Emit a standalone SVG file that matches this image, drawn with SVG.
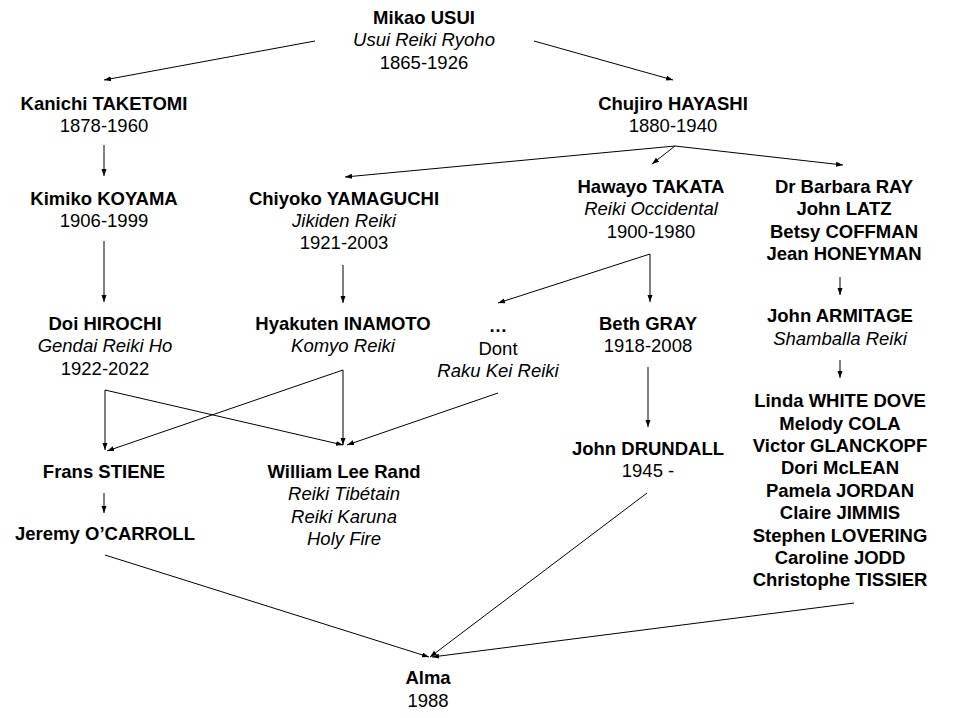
<svg xmlns="http://www.w3.org/2000/svg" width="960" height="718" viewBox="0 0 960 718">
<defs>
<marker id="ah" markerUnits="userSpaceOnUse" markerWidth="8" markerHeight="6" refX="7" refY="2.5" orient="auto">
<path d="M0,0 L7,2.5 L0,5 z" fill="#000"/>
</marker>
<style>
text{font-family:"Liberation Sans",Arial,sans-serif;font-size:18.5px;fill:#000;text-anchor:middle}
.b{font-weight:bold}
.i{font-style:italic}
#edges line{stroke:#000;stroke-width:1;marker-end:url(#ah)}
</style>
</defs>
<rect width="960" height="718" fill="#fff"/>
<g id="edges">
<line x1="315" y1="41" x2="104" y2="80"/>
<line x1="534" y1="41" x2="673" y2="80"/>
<line x1="104" y1="145" x2="104" y2="176"/>
<line x1="104" y1="241" x2="104" y2="302"/>
<line x1="343" y1="265" x2="343" y2="303"/>
<line x1="675" y1="146" x2="345" y2="177"/>
<line x1="675" y1="146" x2="652" y2="164"/>
<line x1="675" y1="146" x2="843" y2="165"/>
<line x1="650" y1="254" x2="498" y2="303"/>
<line x1="650" y1="254" x2="650" y2="302"/>
<line x1="648" y1="367" x2="648" y2="427"/>
<line x1="840" y1="277" x2="840" y2="295"/>
<line x1="840" y1="360" x2="840" y2="378"/>
<line x1="105" y1="390" x2="105" y2="450"/>
<line x1="105" y1="390" x2="343" y2="445"/>
<line x1="343" y1="370" x2="107" y2="451"/>
<line x1="343" y1="370" x2="343" y2="445"/>
<line x1="498" y1="393" x2="347" y2="445"/>
<line x1="104" y1="493" x2="104" y2="513"/>
<line x1="105" y1="555" x2="429" y2="657"/>
<line x1="647" y1="493" x2="430" y2="657"/>
<line x1="854" y1="603" x2="432" y2="657"/>
</g>
<g id="usui"><text x="424" y="24" class="b">Mikao USUI</text><text x="424" y="46" class="i">Usui Reiki Ryoho</text><text x="424" y="69">1865-1926</text></g>
<g id="taketomi"><text x="104" y="110" class="b">Kanichi TAKETOMI</text><text x="104" y="132">1878-1960</text></g>
<g id="hayashi"><text x="673" y="110" class="b">Chujiro HAYASHI</text><text x="673" y="132">1880-1940</text></g>
<g id="koyama"><text x="104" y="205" class="b">Kimiko KOYAMA</text><text x="104" y="227">1906-1999</text></g>
<g id="yamaguchi"><text x="344" y="205" class="b">Chiyoko YAMAGUCHI</text><text x="344" y="227" class="i">Jikiden Reiki</text><text x="344" y="249">1921-2003</text></g>
<g id="takata"><text x="651" y="193" class="b">Hawayo TAKATA</text><text x="651" y="215" class="i">Reiki Occidental</text><text x="651" y="238">1900-1980</text></g>
<g id="ray"><text x="844" y="193" class="b">Dr Barbara RAY</text><text x="844" y="215" class="b">John LATZ</text><text x="844" y="238" class="b">Betsy COFFMAN</text><text x="844" y="260" class="b">Jean HONEYMAN</text></g>
<g id="hirochi"><text x="105" y="330" class="b">Doi HIROCHI</text><text x="105" y="352" class="i">Gendai Reiki Ho</text><text x="105" y="375">1922-2022</text></g>
<g id="inamoto"><text x="343" y="330" class="b">Hyakuten INAMOTO</text><text x="343" y="352" class="i">Komyo Reiki</text></g>
<g id="dont"><text x="498" y="332" class="b">…</text><text x="498" y="355">Dont</text><text x="498" y="377" class="i">Raku Kei Reiki</text></g>
<g id="gray"><text x="648" y="330" class="b">Beth GRAY</text><text x="648" y="352">1918-2008</text></g>
<g id="armitage"><text x="840" y="322" class="b">John ARMITAGE</text><text x="840" y="345" class="i">Shamballa Reiki</text></g>
<g id="group"><text x="840" y="407" class="b">Linda WHITE DOVE</text><text x="840" y="430" class="b">Melody COLA</text><text x="840" y="452" class="b">Victor GLANCKOPF</text><text x="840" y="474" class="b">Dori McLEAN</text><text x="840" y="497" class="b">Pamela JORDAN</text><text x="840" y="519" class="b">Claire JIMMIS</text><text x="840" y="542" class="b">Stephen LOVERING</text><text x="840" y="564" class="b">Caroline JODD</text><text x="840" y="586" class="b">Christophe TISSIER</text></g>
<g id="drundall"><text x="648" y="455" class="b">John DRUNDALL</text><text x="648" y="477">1945 -</text></g>
<g id="stiene"><text x="104" y="478" class="b">Frans STIENE</text></g>
<g id="rand"><text x="344" y="478" class="b">William Lee Rand</text><text x="344" y="500" class="i">Reiki Tibétain</text><text x="344" y="523" class="i">Reiki Karuna</text><text x="344" y="545" class="i">Holy Fire</text></g>
<g id="ocarroll"><text x="105" y="540" class="b">Jeremy O’CARROLL</text></g>
<g id="alma"><text x="428" y="684" class="b">Alma</text><text x="428" y="707">1988</text></g>
</svg>
